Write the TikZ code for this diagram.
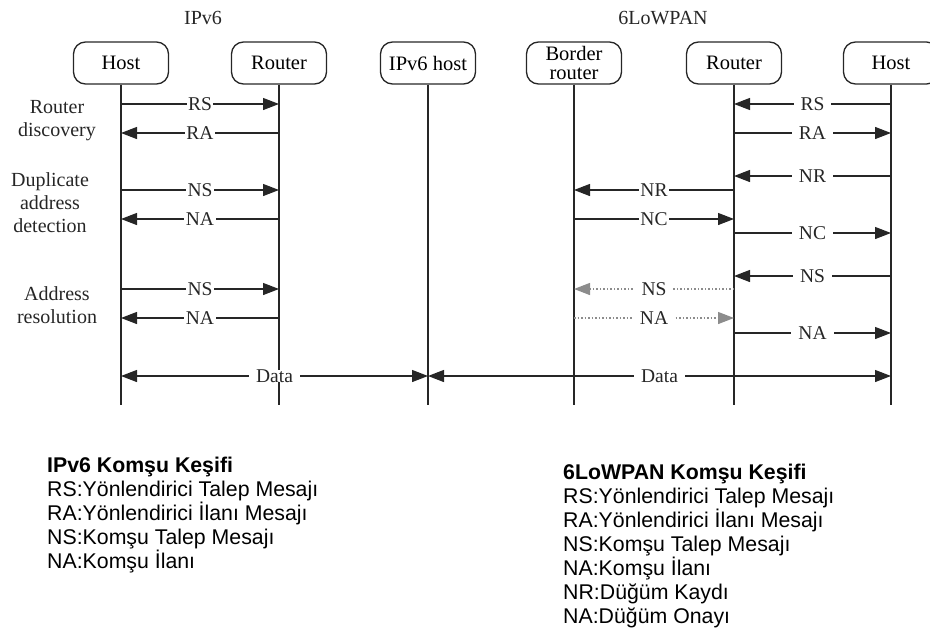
\documentclass[tikz,border=0pt]{standalone}
\usepackage{fontspec}
\setmainfont{Liberation Serif}
\newfontfamily\legendfont{Liberation Sans}
\usetikzlibrary{arrows.meta}

\begin{document}
\begin{tikzpicture}[x=1pt,y=-1pt,
    actor/.style={draw=black!85, line width=1.3pt, rounded corners=12pt,
        minimum width=95pt, minimum height=42pt, inner sep=1pt, align=center,
        font=\fontsize{20.5}{19}\selectfont},
    life/.style={draw=black!85, line width=1.3pt},
    msg/.style={draw=black!85, line width=1.3pt, -{Triangle[length=16pt,width=12pt]}},
    msggray/.style={draw=black!45, line width=1.3pt, dash pattern=on 1.5pt off 2pt,
        -{Triangle[length=16pt,width=12pt]}},
    data/.style={draw=black!85, line width=1.3pt,
        {Triangle[length=16pt,width=12pt]}-{Triangle[length=16pt,width=12pt]}},
    lbl/.style={fill=white, inner xsep=1.5pt, inner ysep=0pt, text=black!85,
        font=\fontsize{19.5}{19}\selectfont},
    lblwide/.style={lbl, inner xsep=7pt},
    side/.style={align=center, text=black!85, font=\fontsize{20}{23}\selectfont},
    title/.style={text=black!85, font=\fontsize{20}{20}\selectfont},
    legend/.style={align=left, anchor=base west, inner sep=0pt,
        font=\legendfont\fontsize{21.3}{24}\selectfont}
]
    % Variables for the lifelines
    \def\lifeend{405}

    \useasboundingbox (0,0) rectangle (930,640);
    \clip (0,0) rectangle (930,640);

    % Titles
    \node[title] (tipv6) at (203,18) {IPv6};
    \node[title] (tlow) at (663,18) {6LoWPAN};

    % Participants
    \node[actor] (h1) at (121,63) {Host};
    \node[actor] (r1) at (279,63) {Router};
    \node[actor] (i1) at (428,63) {IPv6 host};
    \node[actor] (b1) at (574,63) {Border\\router};
    \node[actor] (r2) at (734,63) {Router};
    \node[actor] (h2) at (891,63) {Host};

    % Lifelines
    \foreach \p in {h1,r1,i1,b1,r2,h2} {
        \coordinate (\p e) at (\p |- 0,\lifeend);
        \draw[life] (\p) -- (\p e);
    }

    % Phase labels on the left
    \node[side] (rdisc) at (57,121) {Router\\discovery};
    \node[side] (dad) at (50,203) {Duplicate\\address\\detection};
    \node[side] (ares) at (57,305) {Address\\resolution};

    % IPv6 messages
    \draw[msg] (h1 |- 0,104) -- node[lbl] {RS} (r1 |- 0,104);
    \draw[msg] (r1 |- 0,133) -- node[lbl] {RA} (h1 |- 0,133);
    \draw[msg] (h1 |- 0,190) -- node[lbl] {NS} (r1 |- 0,190);
    \draw[msg] (r1 |- 0,219) -- node[lbl] {NA} (h1 |- 0,219);
    \draw[msg] (h1 |- 0,289) -- node[lbl] {NS} (r1 |- 0,289);
    \draw[msg] (r1 |- 0,318) -- node[lbl] {NA} (h1 |- 0,318);

    % 6LoWPAN messages, host and router
    \draw[msg] (h2 |- 0,104) -- node[lblwide] {RS} (r2 |- 0,104);
    \draw[msg] (r2 |- 0,133) -- node[lblwide] {RA} (h2 |- 0,133);
    \draw[msg] (h2 |- 0,176) -- node[lblwide] {NR} (r2 |- 0,176);
    \draw[msg] (r2 |- 0,233) -- node[lblwide] {NC} (h2 |- 0,233);
    \draw[msg] (h2 |- 0,276) -- node[lblwide] {NS} (r2 |- 0,276);
    \draw[msg] (r2 |- 0,333) -- node[lblwide] {NA} (h2 |- 0,333);

    % 6LoWPAN messages, router and border router
    \draw[msg] (r2 |- 0,190) -- node[lbl] {NR} (b1 |- 0,190);
    \draw[msg] (b1 |- 0,219) -- node[lbl] {NC} (r2 |- 0,219);
    \draw[msggray] (r2 |- 0,289) -- node[lblwide] {NS} (b1 |- 0,289);
    \draw[msggray] (b1 |- 0,318) -- node[lblwide] {NA} (r2 |- 0,318);

    % Data exchange
    \draw[data] (h1 |- 0,376) -- node[lblwide] {Data} (i1 |- 0,376);
    \draw[data] (i1 |- 0,376) -- node[lblwide] {Data} (h2 |- 0,376);

    % Legends (anchored at the baseline of their last line)
    \node[legend] (legv6) at (47,568) {\textbf{IPv6 Komşu Keşifi}\\
        RS:Yönlendirici Talep Mesajı\\
        RA:Yönlendirici İlanı Mesajı\\
        NS:Komşu Talep Mesajı\\
        NA:Komşu İlanı};
    \node[legend] (leglow) at (563,623) {\textbf{6LoWPAN Komşu Keşifi}\\
        RS:Yönlendirici Talep Mesajı\\
        RA:Yönlendirici İlanı Mesajı\\
        NS:Komşu Talep Mesajı\\
        NA:Komşu İlanı\\
        NR:Düğüm Kaydı\\
        NA:Düğüm Onayı};

\end{tikzpicture}
\end{document}
